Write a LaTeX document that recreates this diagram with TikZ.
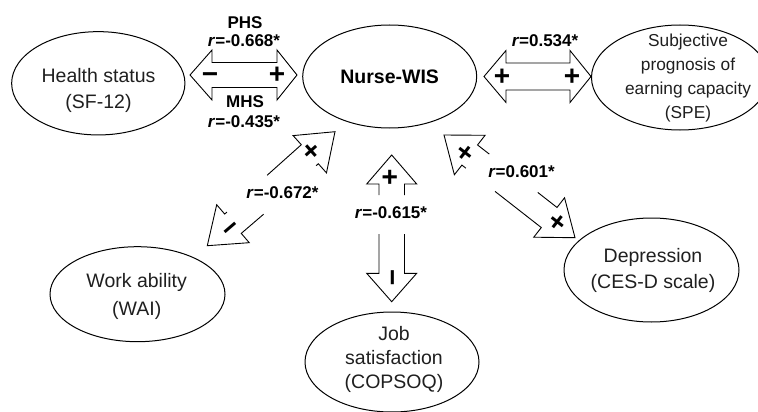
\documentclass[tikz,border=0pt]{standalone}
\usepackage{fontspec}
\setmainfont{Liberation Sans}
\usetikzlibrary{shapes.geometric}
\tikzset{
  ell/.style={draw, line width=1pt, ellipse, inner sep=0pt},
  txt/.style={align=center, inner sep=0pt, text=black!88, font=\fontsize{19.5}{25.5}\selectfont},
  lab/.style={font=\bfseries\fontsize{17}{20}\selectfont, inner sep=0pt},
  arr/.style={draw, line width=0.9pt, line join=miter},
  sgn/.style={font=\bfseries\fontsize{28}{28}\selectfont, inner sep=0pt},
}
% #1 tip coordinate, #2 angle, #3 head length, #4 left shaft, #5 right shaft, #6 sign, #7 sign offset
\newcommand\halfarr[7]{%
  \begin{scope}[shift={(#1)}, rotate=#2, x=1pt, y=1pt]
    \draw[arr] (-#3-#4,12.75) -- (-#3,12.75) -- (-#3,25) -- (0,0) -- (-#3,-25) -- (-#3,-12.75) -- (-#3-#5,-12.75);
    \node[sgn, rotate=#2] (#1s) at (-#3+#7,0) {\vphantom{+}#6};
  \end{scope}}
\begin{document}
\begin{tikzpicture}[x=1pt,y=-1pt]
\useasboundingbox (0,0) rectangle (758,412);
% ellipses
\node[ell, minimum width=173.3pt, minimum height=103.3pt] (hs) at (98.3,83.3) {};
\node[txt] (hst) at (98.5,90.6) {Health status\\(SF-12)};
\node[ell, minimum width=174pt, minimum height=103pt, font=\bfseries\fontsize{19.5}{25.5}\selectfont] (nw) at (389.7,76.5) {Nurse-WIS};
\node[ell, minimum width=177pt, minimum height=105pt] (spe) at (680,77.5) {};
\node[txt, font=\fontsize{17.3}{24.3}\selectfont] (spet) at (688,78) {Subjective\\prognosis of\\earning capacity\\(SPE)};
\node[ell, minimum width=175pt, minimum height=95pt] (wai) at (137.5,294.2) {};
\node[txt, font=\fontsize{19.5}{28}\selectfont] (wait) at (136.7,296.4) {Work ability\\(WAI)};
\node[ell, minimum width=174pt, minimum height=100pt] (job) at (392,362) {};
\node[txt, font=\fontsize{19.5}{24}\selectfont] (jobt) at (394,359) {Job\\satisfaction\\(COPSOQ)};
\node[ell, minimum width=175pt, minimum height=104pt] (dep) at (651.5,270) {};
\node[txt] (dept) at (653,270.4) {Depression\\(CES-D scale)};
% horizontal double arrows
\coordinate (p1) at (190,75); \coordinate (p2) at (297,75);
\draw[arr] (p1) -- (212,50) -- (212,62.5) -- (277,62.5) -- (277,50) -- (p2) -- (277,100) -- (277,87.5) -- (212,87.5) -- (212,100) -- cycle;
\node[sgn] (s1) at (210,75) {\vphantom{+}−};
\node[sgn] (s2) at (277,75) {\vphantom{+}+};
\coordinate (q1) at (484,76.5); \coordinate (q2) at (591,76.5);
\draw[arr] (q1) -- (506,50.5) -- (506,63) -- (570,63) -- (570,50.5) -- (q2) -- (570,102.5) -- (570,90) -- (506,90) -- (506,102.5) -- cycle;
\node[sgn] (s3) at (502,77) {\vphantom{+}+};
\node[sgn] (s4) at (572,77) {\vphantom{+}+};
% broken arrows
\coordinate (t1) at (335,131.7);
\coordinate (t2) at (207.3,245.7);
\coordinate (t3) at (391.7,155);
\coordinate (t4) at (391.7,301.7);
\coordinate (t5) at (444,135);
\coordinate (t6) at (575,237.7);
\halfarr{t1}{41.8}{33.8}{45.8}{3}{+}{3}
\halfarr{t2}{220.6}{33.8}{29.4}{3}{−}{4.5}
\halfarr{t3}{90}{29}{11}{11}{+}{7}
\halfarr{t4}{-90}{28.4}{39.3}{39.3}{−}{4.7}
\halfarr{t5}{142.1}{32.6}{5}{14.9}{+}{4.5}
\halfarr{t6}{-38}{32.8}{24.4}{58.7}{+}{9.5}
% labels
\node[lab] (l1) at (245,23) {PHS};
\node[lab] (l2) at (244,41) {\textit{r}=-0.668*};
\node[lab] (l3) at (245,102) {MHS};
\node[lab] (l4) at (244,122) {\textit{r}=-0.435*};
\node[lab] (l5) at (545,41) {\textit{r}=0.534*};
\node[lab] (l6) at (282.5,193) {\textit{r}=-0.672*};
\node[lab] (l7) at (391,213) {\textit{r}=-0.615*};
\node[lab] (l8) at (521.5,172) {\textit{r}=0.601*};
\end{tikzpicture}
\end{document}
